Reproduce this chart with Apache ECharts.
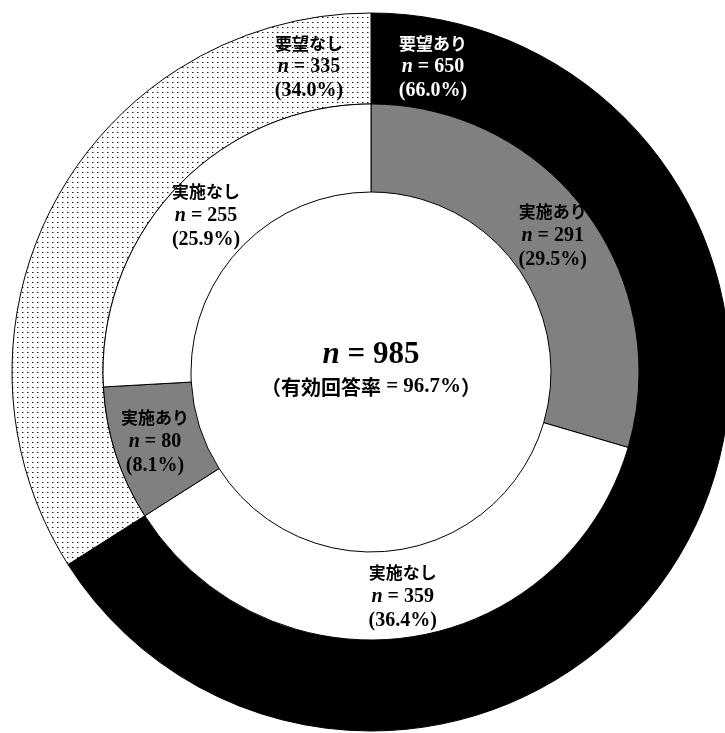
<!DOCTYPE html>
<html>
<head>
<meta charset="utf-8">
<script src="https://cdn.jsdelivr.net/npm/echarts@6/dist/echarts.min.js"></script>
<style>
  html, body { margin: 0; padding: 0; background: #fff; }
  #chart { width: 725px; height: 733px; }
</style>
</head>
<body>
<div id="chart"></div>
<script>
// Outer ring: request status
const requestNames = ['要望あり', '要望なし'];
const requestValues = [650, 335];
// Inner ring: implementation status within each request group
const implNames = ['実施あり', '実施なし', '実施あり', '実施なし'];
const implValues = [291, 359, 80, 255];
// Overall summary
const totalN = 985;
const responseRate = '96.7%';

const JP = '"Noto Sans CJK JP", "Noto Sans CJK SC", sans-serif';
const SERIF = '"Liberation Serif", "DejaVu Serif", serif';

const CX = 371, CY = 372;
const R_IN = 180, R_MID = 268, R_OUT = 359;

// Small dotted tile used for the "no request" segment
function dotPattern() {
  const c = document.createElement('canvas');
  c.width = 5; c.height = 5;
  const g = c.getContext('2d');
  g.fillStyle = '#ffffff';
  g.fillRect(0, 0, 5, 5);
  g.fillStyle = '#1a1a1a';
  g.fillRect(2, 2, 1, 1);
  g.fillStyle = '#9a9a9a';
  g.fillRect(3, 2, 1, 1);
  return c;
}

function pct(v) {
  return '(' + (v / totalN * 100).toFixed(1) + '%)';
}

function richLabel(color) {
  return {
    t: { fontFamily: JP, fontWeight: 'bold', fontSize: 17, color: color, lineHeight: 24 },
    n: { fontFamily: SERIF, fontStyle: 'italic', fontWeight: 'bold', fontSize: 20, color: color, lineHeight: 24 },
    v: { fontFamily: SERIF, fontWeight: 'bold', fontSize: 20, color: color, lineHeight: 24 }
  };
}

function fmt(name, v) {
  return '{t|' + name + '}\n{n|n}{v| = ' + v + '}\n{v|' + pct(v) + '}';
}

const outerColors = ['#000000', { image: dotPattern(), repeat: 'repeat' }];
const outerText = ['#ffffff', '#000000'];
const implColors = ['#808080', '#ffffff', '#808080', '#ffffff'];

const chart = echarts.init(document.getElementById('chart'), null, { renderer: 'canvas' });

chart.setOption({
  backgroundColor: '#ffffff',
  animation: false,
  series: [
    {
      type: 'pie',
      center: [CX, CY],
      radius: [R_MID, R_OUT],
      startAngle: 90,
      clockwise: true,
      silent: true,
      avoidLabelOverlap: false,
      itemStyle: { borderColor: '#000', borderWidth: 1 },
      label: {
        show: true,
        position: 'inside',
        align: 'center'
      },
      // outer labels sit just either side of the top boundary
      labelLayout: function (p) {
        const ang = (p.dataIndex === 0 ? 11.5 : -11.5) * Math.PI / 180;
        const r = 311;
        return {
          x: CX + r * Math.sin(ang),
          y: CY - r * Math.cos(ang),
          align: 'center',
          verticalAlign: 'middle'
        };
      },
      data: requestNames.map(function (name, i) {
        return {
          name: name,
          value: requestValues[i],
          itemStyle: { color: outerColors[i] },
          label: {
            formatter: fmt(name, requestValues[i]),
            rich: richLabel(outerText[i])
          }
        };
      })
    },
    {
      type: 'pie',
      center: [CX, CY],
      radius: [R_IN, R_MID],
      startAngle: 90,
      clockwise: true,
      silent: true,
      avoidLabelOverlap: false,
      itemStyle: { borderColor: '#000', borderWidth: 1 },
      label: {
        show: true,
        position: 'inside',
        align: 'center'
      },
      data: implNames.map(function (name, i) {
        return {
          name: name + i,
          value: implValues[i],
          itemStyle: { color: implColors[i] },
          label: {
            formatter: fmt(name, implValues[i]),
            rich: richLabel('#000000')
          }
        };
      })
    }
  ],
  graphic: [
    {
      type: 'text',
      position: [CX, 355],
      style: {
        text: '{n|n}{v| = ' + totalN + '}',
        align: 'center',
        verticalAlign: 'middle',
        rich: {
          n: { fontFamily: SERIF, fontStyle: 'italic', fontWeight: 'bold', fontSize: 31, fill: '#000' },
          v: { fontFamily: SERIF, fontWeight: 'bold', fontSize: 31, fill: '#000' }
        }
      }
    },
    {
      type: 'text',
      position: [CX, 387],
      style: {
        text: '{j|（有効回答率}{v| = ' + responseRate + '}{j|）}',
        align: 'center',
        verticalAlign: 'middle',
        rich: {
          j: { fontFamily: JP, fontWeight: 'bold', fontSize: 20, fill: '#000' },
          v: { fontFamily: SERIF, fontWeight: 'bold', fontSize: 21, fill: '#000' }
        }
      }
    }
  ]
});
</script>
</body>
</html>
